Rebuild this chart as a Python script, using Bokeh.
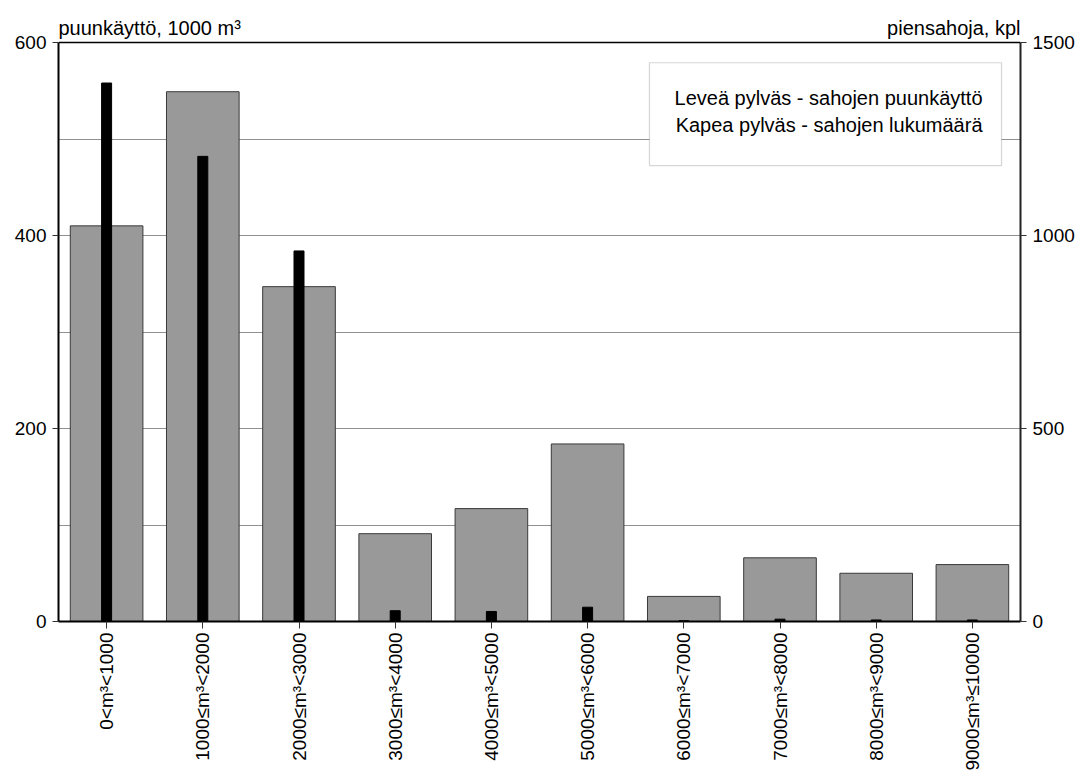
import math
from bokeh.plotting import figure
from bokeh.models import Range1d, LinearAxis, FixedTicker, BoxAnnotation, Label, Span
from bokeh.embed import file_html
from bokeh.resources import INLINE

categories = ["0<m³<1000", "1000≤m³<2000", "2000≤m³<3000", "3000≤m³<4000",
              "4000≤m³<5000", "5000≤m³<6000", "6000≤m³<7000", "7000≤m³<8000",
              "8000≤m³<9000", "9000≤m³≤10000"]
wood_use = [410, 549, 347, 91, 117, 184, 26, 66, 50, 59]      # 1000 m³ (left axis)
sawmills = [1395, 1205, 960, 28, 26, 37, 2, 6, 4, 4]          # kpl (right axis)
left_max = 600
right_max = 1500
left_ticks = [0, 200, 400, 600]
grid_ticks = [100, 200, 300, 400, 500]
right_ticks = [0, 500, 1000, 1500]
left_title = "puunkäyttö, 1000 m³"
right_title = "piensahoja, kpl"
legend_lines = ["Leveä pylväs - sahojen puunkäyttö", "Kapea pylväs - sahojen lukumäärä"]

FONT = "Liberation Sans"

# extra headroom above the value axes so that the axis titles sit inside the frame
FRAME_H = 579.0
head = 613.0 / FRAME_H

p = figure(x_range=categories, y_range=Range1d(0, left_max * head), width=1090, height=776,
           output_backend="svg", toolbar_location=None,
           min_border_left=58, min_border_right=70, min_border_top=8, min_border_bottom=155)
p.extra_y_ranges = {"right": Range1d(0, right_max * head)}

p.outline_line_color = None
p.background_fill_color = "white"

# grid
p.xgrid.grid_line_color = None
p.ygrid.ticker = FixedTicker(ticks=grid_ticks)
p.ygrid.grid_line_color = "#909090"
p.ygrid.grid_line_width = 1.2

# top border of the plot area
p.add_layout(Span(location=left_max, dimension="width", line_color="black", line_width=1.5))

# wide bars
p.vbar(x=categories, top=wood_use, width=0.755, fill_color="#999999",
       line_color="#3a3a3a", line_width=1)
# narrow bars
p.vbar(x=categories, top=sawmills, width=0.104, fill_color="black",
       line_color="black", line_width=1, y_range_name="right")

# left axis
ya = p.yaxis[0]
ya.ticker = FixedTicker(ticks=left_ticks)
ya.bounds = (0, left_max)
ya.minor_tick_line_color = None
ya.major_label_text_font = FONT
ya.major_label_text_font_size = "19px"
ya.major_label_text_color = "black"
ya.axis_line_width = 2
ya.axis_line_color = "black"
ya.major_tick_line_color = "#333333"
ya.major_tick_in = 0
ya.major_tick_out = 6
ya.major_label_standoff = 6

# right axis
ra = LinearAxis(y_range_name="right", ticker=FixedTicker(ticks=right_ticks))
ra.bounds = (0, right_max)
ra.minor_tick_line_color = None
ra.major_label_text_font = FONT
ra.major_label_text_font_size = "19px"
ra.major_label_text_color = "black"
ra.axis_line_width = 2
ra.axis_line_color = "#222222"
ra.major_tick_line_color = "#333333"
ra.major_tick_in = 0
ra.major_tick_out = 6
ra.major_label_standoff = 6
p.add_layout(ra, "right")

# x axis
xa = p.xaxis[0]
xa.major_label_orientation = math.pi / 2
xa.major_label_text_font = FONT
xa.major_label_text_font_size = "19px"
xa.major_label_text_color = "black"
xa.axis_line_width = 2
xa.axis_line_color = "black"
xa.major_tick_line_color = "#333333"
xa.major_tick_in = 0
xa.major_tick_out = 7
xa.major_label_standoff = 4
xa.minor_tick_line_color = None

# axis titles above the value area
p.add_layout(Label(x=0, y=left_max, y_offset=4, text=left_title, text_font=FONT,
                   text_font_size="20px", text_align="left", text_baseline="bottom",
                   text_color="black"))
p.add_layout(Label(x=len(categories), y=left_max, y_offset=4, text=right_title, text_font=FONT,
                   text_font_size="20px", text_align="right", text_baseline="bottom",
                   text_color="black"))

# legend box
p.add_layout(BoxAnnotation(left=6.143, right=9.803, top=579, bottom=472.5,
                           fill_color="white", fill_alpha=1.0,
                           line_color="#777777", line_width=1.2))
p.add_layout(Label(x=9.605, y=542, text=legend_lines[0], text_font=FONT,
                   text_font_size="20px", text_align="right", text_baseline="middle",
                   text_color="black"))
p.add_layout(Label(x=9.605, y=515, text=legend_lines[1], text_font=FONT,
                   text_font_size="20px", text_align="right", text_baseline="middle",
                   text_color="black"))

open("out.html", "w").write(file_html(p, INLINE))
